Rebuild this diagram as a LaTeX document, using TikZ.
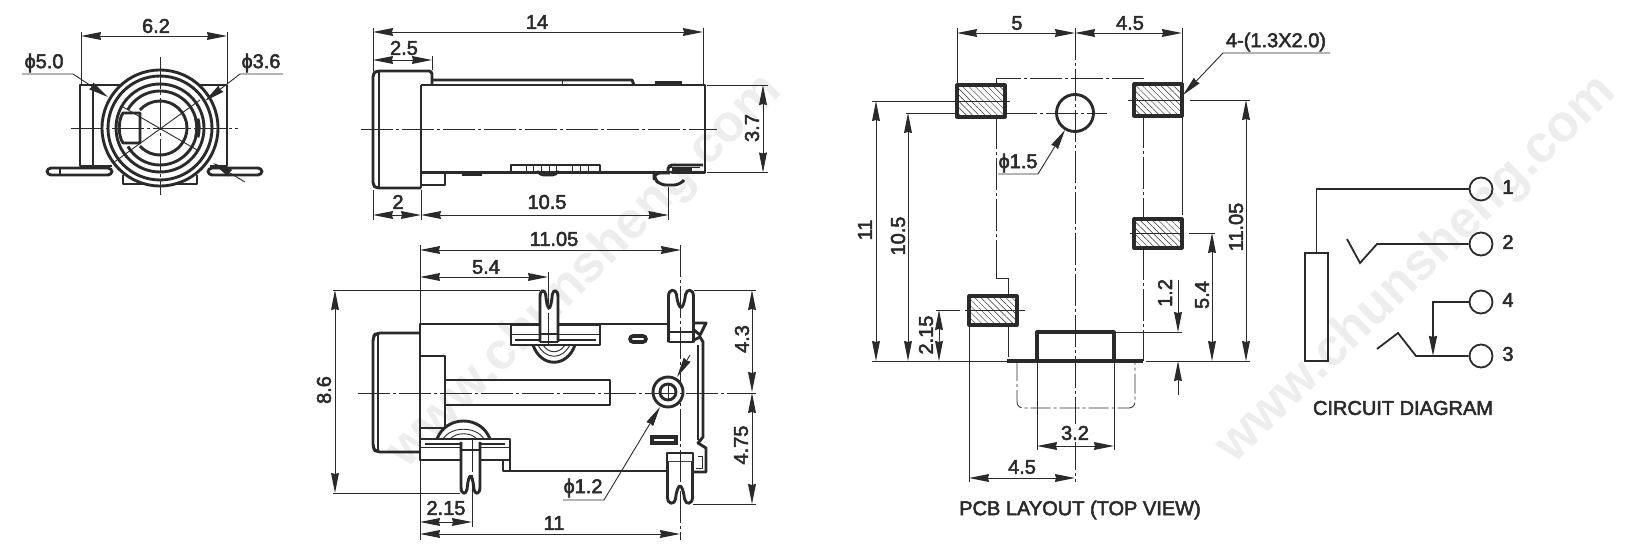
\documentclass[tikz,border=0pt]{standalone}
\usepackage{fontspec}
\setmainfont{Liberation Sans}
\newfontfamily\dimfont[FakeBold=2.6]{Liberation Sans}
\newfontfamily\markfont{Liberation Sans Bold}
\usetikzlibrary{arrows.meta,patterns.meta}
\definecolor{ink}{HTML}{2A2A2A}
\definecolor{wm}{HTML}{EDEDED}
\tikzset{
  ln/.style={draw=ink,line width=1.45pt,line join=round},
  tn/.style={draw=ink,line width=0.45pt},
  cl/.style={draw=ink,line width=0.4pt,dash pattern=on 16pt off 1.5pt on 1.5pt off 1.5pt},
  da/.style={tn,{Stealth[length=10pt,width=3.9pt,inset=0.5pt]}-{Stealth[length=10pt,width=3.9pt,inset=0.5pt]}},
  ea/.style={tn,-{Stealth[length=10pt,width=3.9pt,inset=0.5pt]}},
  lbl/.style={text=ink,font=\dimfont\fontsize{10}{12}\selectfont,inner sep=0pt},
  vlbl/.style={lbl,rotate=90},
  wmark/.style={text=wm,font=\markfont\fontsize{26}{30}\selectfont,inner sep=0pt},
  pad/.style={ln,line width=1.6pt,pattern={Lines[angle=-45,distance=2.2pt,line width=0.22pt]},pattern color=ink},
}
\newcommand\forkpin[5]{% x, y tip, width, flip, length
  \begin{scope}[shift={(#1,#2)},xscale=#3/25,yscale=#4]
    \draw[ln,fill=white] (0,#5) -- (0,7) .. controls (0,-1) and (7,-1) .. (8,5)
      .. controls (9,14) and (11,18) .. (12.5,18) .. controls (14,18) and (16,14) .. (17,5)
      .. controls (18,-1) and (25,-1) .. (25,7) -- (25,#5);
  \end{scope}}
\begin{document}
\begin{tikzpicture}[x=0.5pt,y=-0.5pt]
\useasboundingbox (0,0) rectangle (1644,555);
% watermarks
\node[wmark,rotate=45] (w1) at (585,272) {www.chunsheng.com};
\node[wmark,rotate=44] (w2) at (1417,270) {www.chunsheng.com};

%% FRONT VIEW
\draw[tn] (81,32) -- (81,84);
\draw[tn] (227,32) -- (227,84);
\draw[da] (81,36) -- (227,36);
\node[lbl] (t62) at (156,26) {6.2};
\node[lbl] (t50) at (44,63) {ϕ5.0};
\node[lbl] (t36) at (261,63) {ϕ3.6};
\draw[ln] (120,85) -- (80,85) -- (80,166) -- (112,166);
\draw[ln] (93,85) -- (93,166);
\draw[ln] (200,85) -- (227,85) -- (227,166) -- (210,166);
\draw[ln,fill=white,rounded corners=2pt] (47,168) rectangle (112,175);
\draw[ln,fill=white,rounded corners=2pt] (208,168) rectangle (262,175);
\draw[ln] (60,168) -- (60,175);
\draw[ln,fill=white] (123,175) -- (123,184) -- (197,184) -- (197,175);
\draw[ln,fill=white] (160,128) circle (58);
\draw[ln] (160,128) circle (52);
\draw[ln] (160,128) circle (44);
\draw[ln] (160,128) ++(-150:37) arc[start angle=-150,end angle=150,radius=37];
\draw[ln] (160,128) ++(222:27) arc[start angle=222,end angle=498,radius=27];
\draw[ln] (140,113) -- (123,113) .. controls (118,120) and (118,136) .. (123,143) -- (140,143) -- cycle;
\draw[draw=ink,line width=2.6pt] (160,128) ++(-14:38) arc[start angle=-14,end angle=14,radius=38];
\draw[cl] (71,128) -- (238,128);
\draw[cl] (160,57) -- (160,195);
\draw[tn] (123,107) -- (197,150);
\draw[tn] (113,163) -- (200,100);
\draw[ea] (22,74) -- (73,74) -- (108,97);
\draw[ea] (283,74) -- (240,74) -- (205,101);
\draw[ea] (245,182) -- (213,163);

%% SIDE VIEW
\draw[tn] (373,28) -- (373,71);
\draw[tn] (703,28) -- (703,84);
\draw[da] (373,32) -- (703,32);
\node[lbl] (t14) at (537,22) {14};
\draw[tn] (432,56) -- (432,70);
\draw[da] (373,60) -- (432,60);
\node[lbl] (t25) at (404,48) {2.5};
\draw[ln,rounded corners=1.5pt] (421,188) -- (376,188) -- (373,185) -- (373,74) -- (376,71) -- (432,71) -- (432,85);
\draw[ln] (379,71) -- (379,188);
\draw[ln] (421,85) -- (421,188);
\draw[ln] (421,85) -- (705,85) -- (705,172.5) -- (421,172.5);
\draw[ln] (432,80) -- (632,80) -- (634,85);
\draw[tn] (562,80) -- (562,85);
\draw[draw=ink,line width=1.8pt] (655,83) -- (682,83);
\draw[ln] (421,173) -- (445,173) -- (445,185) -- (421,185);
\draw[draw=ink,line width=1.8pt] (462,174) -- (482,174);
\draw[ln] (511,172) -- (511,165) -- (600,165) -- (600,172);
\foreach \mx in {526,533,541,549,556,572,580,588} \draw[tn] (\mx,165) -- (\mx,172);
\draw[ln,rounded corners=2pt] (538,172) -- (540,175) -- (556,175) -- (558,172);
\draw[ln,fill=white,rounded corners=3pt] (684,180) -- (680,185) -- (660,185) -- (654,178) -- (654,173) -- (670,173);
\draw[ln,rounded corners=2pt] (668,172) -- (668,165) -- (703,165);
\draw[draw=ink,line width=1.6pt] (672,170) -- (692,170);
\draw[tn] (670,167) -- (700,167);
\draw[cl] (361,129) -- (717,129);
\draw[tn] (707,85) -- (768,85);
\draw[tn] (707,172.5) -- (768,172.5);
\draw[da] (763,85) -- (763,172.5);
\node[vlbl] (t37) at (752,128) {3.7};
\draw[tn] (373,190) -- (373,220);
\draw[tn] (421,190) -- (421,220);
\draw[tn] (668.5,187) -- (668.5,220);
\draw[da] (373,215) -- (421,215);
\draw[da] (421,215) -- (668.5,215);
\node[lbl] (t2) at (398,202) {2};
\node[lbl] (t105) at (547,202) {10.5};

%% BOTTOM VIEW
\draw[tn] (420,245) -- (420,325);
\draw[da] (420,250) -- (681,250);
\node[lbl] (t1105) at (554,239) {11.05};
\draw[da] (420,277) -- (548,277);
\node[lbl] (t54a) at (486,267) {5.4};
\draw[tn] (333,290) -- (540,290);
\draw[tn] (333,493) -- (460,493);
\draw[da] (335,290) -- (335,493);
\node[vlbl] (t86) at (324,390) {8.6};
% body
\draw[ln,rounded corners=2pt] (420,333) -- (376,333) -- (373,337) -- (373,448) -- (376,452) -- (420,452);
\draw[ln] (378,333) -- (378,452);
\draw[ln] (668,324) -- (420,324) -- (420,460) -- (503,460) -- (503,471) -- (668,471);
\draw[ln] (420,356) -- (445,356) -- (445,428) -- (420,428);
\draw[ln] (445,380) -- (610,380) -- (610,405) -- (445,405);
% top pin assembly
\draw[ln] (533,345) .. controls (541,368) and (567,368) .. (575,345);
\draw[tn] (538,345) .. controls (546,360) and (562,360) .. (570,345);
\draw[tn] (543,345) .. controls (549,354) and (559,354) .. (565,345);
\draw[ln,fill=white] (511,325) rectangle (600,345);
\draw[tn] (511,334) -- (600,334);
\draw[draw=ink,line width=1.4pt] (515,340) -- (596,340);
\forkpin{540}{290}{18}{1}{52}
\draw[ln] (540,334) -- (558,334);
\draw[ln] (540,342) -- (558,342);
\draw[cl] (548,272) -- (548,345);
% bottom pin assembly
\draw[ln] (437,439) .. controls (446,415) and (481,415) .. (490,439);
\draw[tn] (443,439) .. controls (451,426) and (476,426) .. (484,439);
\draw[tn] (450,439) .. controls (456,432) and (471,432) .. (477,439);
\draw[ln,fill=white] (420,439) rectangle (510,460);
\draw[tn] (420,447) -- (510,447);
\draw[draw=ink,line width=1.4pt] (425,444) -- (505,444);
\draw[ln] (510,460) -- (510,471);
\forkpin{461}{494}{19}{-1}{52}
\draw[ln] (461,450) -- (480,450);
\draw[cl] (472,440) -- (472,527);
\draw[tn] (420,460) -- (420,540);
% right part
\forkpin{668.5}{289.5}{25}{1}{53}
\draw[ln] (668.5,332) -- (693.5,332);
\draw[ln] (668.5,342) -- (693.5,342);
\draw[ln] (694,323) -- (706,323) -- (700,335) -- (694,330);
\draw[ln] (694,340) -- (700,337) -- (703,342) -- (703,437) -- (698,443) -- (706,448) -- (706,472) -- (667,472);
\draw[ln] (698,345) -- (698,440);
\draw[ln,fill=white] (667,453) rectangle (693,472);
\draw[ln] (667,462) -- (693,462);
\draw[tn] (698,456) -- (702,456) -- (702,468) -- (696,468);
\forkpin{667.5}{504}{25}{-1}{42}
\draw[cl] (680,245) -- (680,540);
% hole & slots
\draw[ln,fill=white] (668,392) circle (15);
\draw[ln] (668,392) circle (8);
\draw[tn] (668,384) -- (668,400);
\draw[cl] (358,393) -- (756,393);
\draw[draw=ink,fill=white,line width=1.8pt,rounded corners=1.5pt] (630,336) rectangle (646,342);
\draw[draw=ink,fill=white,line width=1.8pt] (652,437) rectangle (676,443);
\draw[ea] (563,500) -- (604,500) -- (660,407);
\draw[ea] (690,355) -- (677,377);
\node[lbl] (t12) at (583,488) {ϕ1.2};
\draw[tn] (694,290) -- (756,290);
\draw[tn] (693,504.5) -- (756,504.5);
\draw[da] (752,290) -- (752,392);
\draw[da] (752,393) -- (752,504);
\node[vlbl] (t43) at (742,339) {4.3};
\node[vlbl] (t475) at (741,445) {4.75};
\draw[tn] (472,494) -- (472,527);
\draw[da] (420,522) -- (472,522);
\node[lbl] (t215a) at (446,508) {2.15};
\draw[da] (420,534) -- (680,534);
\node[lbl] (t11a) at (554,523) {11};

%% PCB LAYOUT
\draw[tn] (957,28) -- (957,84);
\draw[tn] (1182,28) -- (1182,84);
\draw[da] (957,33) -- (1075,33);
\draw[da] (1075,33) -- (1182,33);
\node[lbl] (t5) at (1017,23) {5};
\node[lbl] (t45a) at (1130,23) {4.5};
\draw[cl] (1075,28) -- (1075,482);
% outline
\draw[cl] (996,85) -- (996,78) -- (1143,78) -- (1143,84);
\draw[cl] (996,117) -- (996,278);
\draw[tn] (996,270) -- (996,278) -- (1008,278) -- (1008,296);
\draw[cl] (1008,325) -- (1008,361);
\draw[cl] (1143,116) -- (1143,219);
\draw[cl] (1143,248) -- (1143,361);
\draw[tn] (1182,116) -- (1182,215);
% pads
\draw[pad] (957,85) rectangle (1005,117);
\draw[pad] (1134,84) rectangle (1182,116);
\draw[pad] (1134,219) rectangle (1182,248);
\draw[pad] (969,296) rectangle (1017,325);
\draw[ln] (1075,113) circle (18.5);
% centre lines of pads
\draw[tn] (872,101) -- (950,101);
\draw[tn] (950,101) -- (1010,101);
\draw[tn] (1128,100) -- (1182,100);
\draw[tn] (1190,100) -- (1250,100);
\draw[tn] (906,113) -- (957,113);
\draw[cl] (1005,113) -- (1107,113);
\draw[tn] (1130,233) -- (1182,233);
\draw[tn] (1189,233) -- (1215,233);
\draw[tn] (936,310) -- (960,310);
\draw[tn] (965,310) -- (1025,310);
% baseline & button
\draw[tn] (872,361) -- (1007,361);
\draw[tn] (1146,361) -- (1250,361);
\draw[ln,line width=1.6pt] (1007,361) -- (1143,361);
\draw[ln,line width=1.6pt] (1037,361) -- (1037,332) -- (1114,332) -- (1114,361);
\draw[tn] (1116,332) -- (1182,332);
\draw[draw=ink,line width=0.4pt,dash pattern=on 10pt off 1.5pt on 1.5pt off 1.5pt,rounded corners=3pt] (1017,361) -- (1017,408) -- (1135,408) -- (1135,361);
\draw[tn] (1037,361) -- (1037,450);
\draw[tn] (1114,361) -- (1114,450);
\draw[da] (1037,446) -- (1114,446);
\node[lbl,fill=white,inner sep=1pt] (t32) at (1075,433) {3.2};
\draw[tn] (969,325) -- (969,482);
\draw[da] (969,478) -- (1075,478);
\node[lbl] (t45b) at (1022,467) {4.5};
% vertical dims
\draw[da] (876,101) -- (876,361);
\node[vlbl] (t11b) at (865,230) {11};
\draw[da] (908,113) -- (908,361);
\node[vlbl] (t105b) at (898,236) {10.5};
\draw[da] (939,310) -- (939,361);
\node[vlbl] (t215b) at (926,335) {2.15};
\draw[ea] (1178,280) -- (1178,332);
\draw[ea] (1178,395) -- (1178,361);
\node[vlbl] (t12b) at (1165,293) {1.2};
\draw[da] (1212,233) -- (1212,361);
\node[vlbl] (t54b) at (1202,295) {5.4};
\draw[da] (1246,100) -- (1246,361);
\node[vlbl] (t1105b) at (1236,227) {11.05};
% leaders
\node[lbl] (t4x) at (1276,42) {4-(1.3X2.0)};
\draw[ea] (1330,53) -- (1223,53) -- (1183,95);
\node[lbl] (t15) at (1018,163) {ϕ1.5};
\draw[ea] (998,174) -- (1038,174) -- (1065,130);
\node[lbl] (tpcb) at (1080,510) {PCB LAYOUT (TOP VIEW)};

%% CIRCUIT
\node[circle,ln,line width=0.9pt,minimum size=11.5pt,inner sep=0pt] (p1) at (1481,189) {};
\node[circle,ln,line width=0.9pt,minimum size=11.5pt,inner sep=0pt] (p2) at (1481,244) {};
\node[circle,ln,line width=0.9pt,minimum size=11.5pt,inner sep=0pt] (p4) at (1481,302) {};
\node[circle,ln,line width=0.9pt,minimum size=11.5pt,inner sep=0pt] (p3) at (1481,356) {};
\node[lbl] (n1) at (1508,187) {1};
\node[lbl] (n2) at (1508,242) {2};
\node[lbl] (n4) at (1508,300) {4};
\node[lbl] (n3) at (1508,354) {3};
\node[draw=ink,line width=0.9pt,inner sep=0pt,minimum width=11.5pt,minimum height=54pt] (plug) at (1316.5,307) {};
\draw[ink,line width=0.9pt] (plug.north) -- (1316.5,189) -- (p1.west);
\draw[ink,line width=0.9pt] (1347,239) -- (1360,263) -- (1377,244) -- (p2.west);
\draw[ink,line width=0.9pt] (1377,349) -- (1398,333) -- (1416,356) -- (p3.west);
\draw[ink,line width=0.9pt,-{Stealth[length=10pt,width=4pt,inset=0.5pt]}] (p4.west) -- (1433,302) -- (1433,356);
\node[lbl] (tcirc) at (1403,408) {CIRCUIT DIAGRAM};
\end{tikzpicture}
\end{document}
